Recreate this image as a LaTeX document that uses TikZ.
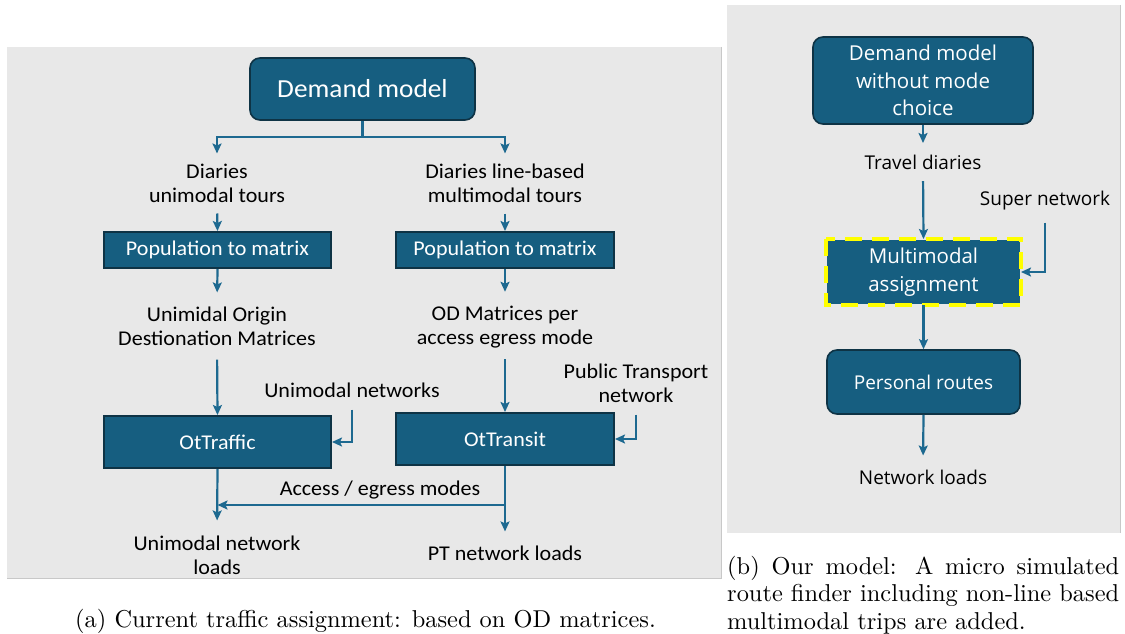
\documentclass[tikz,border=0pt]{standalone}
\usepackage{fontspec}
\usetikzlibrary{arrows.meta}
\newfontfamily\narrowsans[FakeStretch=1.05]{Carlito}
\newfontfamily\widesans{Open Sans}
\newfontfamily\capfont{lmroman10-regular.otf}
\definecolor{panel}{HTML}{E8E8E8}
\definecolor{paneledge}{HTML}{C8C8C8}
\definecolor{boxfill}{HTML}{165E80}
\definecolor{boxedge}{HTML}{0E3345}
\definecolor{arrowc}{HTML}{1D6990}
\definecolor{hilite}{HTML}{FFFF00}
\tikzset{
  box/.style={fill=boxfill, draw=boxedge, line width=2pt, text=white, inner sep=0pt, align=center},
  rbox/.style={box, rounded corners=10pt, line width=1.6pt},
  lft/.style={font=\narrowsans\fontsize{21}{24}\selectfont},
  rgt/.style={font=\widesans\fontsize{19}{27.5}\selectfont},
  lbl/.style={inner sep=0pt, align=center, text=black},
  ln/.style={draw=arrowc, line width=2.2pt},
  arr/.style={ln, -{Stealth[length=10pt,width=9pt,inset=2pt]}},
  captext/.style={inner sep=0pt, font=\capfont\fontsize{24.4}{27.3}\selectfont}
}
\begin{document}
\begin{tikzpicture}[x=1pt, y=-1pt]
\useasboundingbox (0,0) rectangle (1125,634);
\fill[white] (0,0) rectangle (1125,634);

% ---------- panel (a) ----------
\fill[panel] (7,47) rectangle (721,578);
\draw[paneledge, line width=1pt] (721,47) -- (721,578) -- (7,578);

\node[rbox, lft, font=\narrowsans\fontsize{26}{30}\selectfont,
      minimum width=225pt, minimum height=62pt] (dmL) at (362.5,89) {Demand model};

\node[lbl, lft] (diaL) at (217,183) {Diaries\\unimodal tours};
\node[lbl, lft] (diaR) at (505,183) {Diaries line-based\\multimodal tours};

\node[box, lft, minimum width=227pt, minimum height=36pt] (popL) at (217.5,250) {Population to matrix};
\node[box, lft, minimum width=218pt, minimum height=36pt] (popR) at (505,250) {Population to matrix};

\node[lbl, lft] (odL) at (217,326) {Unimidal Origin\\Destionation Matrices};
\node[lbl, lft] (odR) at (505,327) {OD Matrices per\\access egress mode};

\node[lbl, lft] (uniNet) at (352,390) {Unimodal networks};
\node[lbl, lft] (ptNet) at (636,383) {Public Transport\\network};

\node[box, lft, minimum width=227pt, minimum height=52pt] (traf) at (217.5,442) {OtTraffic};
\node[box, lft, minimum width=218pt, minimum height=52pt] (trans) at (505,439) {OtTransit};

\node[lbl, lft] (access) at (380,490) {Access / egress modes};

\node[lbl, lft] (uniLoads) at (217,555) {Unimodal network\\loads};
\node[lbl, lft] (ptLoads) at (505,553) {PT network loads};

\coordinate (fork) at (362.5,137);
\coordinate (aeRow) at (0,505);

\draw[ln] (dmL.south) -- (fork);
\draw[arr, shorten >=10pt] (fork) -| (diaL.north);
\draw[arr, shorten >=10pt] (fork) -| (diaR.north);
\draw[arr, shorten <=11pt] (diaL.south) -- (popL.north);
\draw[arr, shorten <=11pt] (diaR.south) -- (popR.north);
\draw[arr, shorten >=14pt] (popL.south) -- (odL.north);
\draw[arr, shorten >=14pt] (popR.south) -- (odR.north);
\draw[arr, shorten <=14pt] (odL.south) -- (traf.north);
\draw[arr, shorten <=11pt] (odR.south) -- (trans.north);
\draw[arr, shorten <=12pt] (uniNet.south) |- (traf.east);
\draw[arr, shorten <=12pt] (ptNet.south) |- (trans.east);
\draw[arr, shorten >=15pt] (traf.south) -- (uniLoads.north);
\draw[arr, shorten >=14pt] (trans.south) -- (ptLoads.north);
\draw[arr] (trans.south |- aeRow) -- (traf.south |- aeRow);

\node[captext, anchor=base] (capA) at (365.5,627) {(a) Current traffic assignment: based on OD matrices.};

% ---------- panel (b) ----------
\fill[panel] (727,5) rectangle (1120,533);
\draw[paneledge, line width=1pt] (1120,5) -- (1120,533);

\node[rbox, rgt, font=\widesans\fontsize{20.5}{27.5}\selectfont,
      minimum width=220pt, minimum height=87pt] (dmR) at (923,80.5) {Demand model\\without mode\\choice};
\node[lbl, rgt] (travel) at (923,162.5) {Travel diaries};
\node[box, rgt, font=\widesans\fontsize{20.5}{27.5}\selectfont, draw=none,
      minimum width=193pt, minimum height=64pt] (multi) at (923.5,272) {Multimodal\\assignment};
\draw[hilite, line width=3.5pt, dash pattern=on 17pt off 10pt]
  (multi.north west) rectangle (multi.south east);
\node[lbl, rgt] (superN) at (1045,201) {Super network};
\node[rbox, rgt, minimum width=193pt, minimum height=64pt] (pers) at (923.5,382) {Personal routes};
\node[lbl, rgt] (netLoads) at (923,477) {Network loads};

\draw[arr, shorten >=12pt] (dmR.south) -- (travel.north);
\draw[arr, shorten <=11pt] (travel.south) -- (multi.north);
\draw[arr, shorten <=12pt] (superN.south) |- (multi.east);
\draw[arr] (multi.south) -- (pers.north);
\draw[arr, shorten >=14pt] (pers.south) -- (netLoads.north);

\node[captext, anchor=north west, align=left] (capB) at (727,556)
  {\makebox[392pt][s]{(b) Our model: A micro simulated}\\
   \makebox[392pt][s]{route finder including non-line based}\\
   multimodal trips are added.};
\end{tikzpicture}
\end{document}
